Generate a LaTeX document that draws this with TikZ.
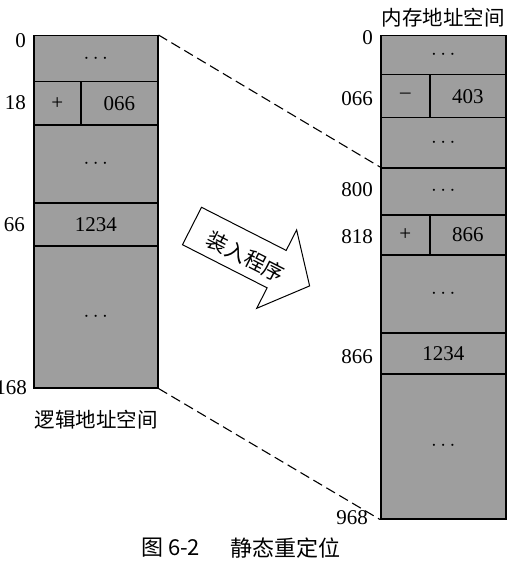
\documentclass[tikz,border=0pt]{standalone}
\usepackage{fontspec}
\setmainfont{Liberation Serif}
\newfontfamily\cjk{Noto Sans CJK SC}
\begin{document}
\begin{tikzpicture}[x=1pt,y=-1pt,
  cell/.style={draw=black, line width=1.5pt, fill=black!38, inner sep=0pt, anchor=north west, font=\fontsize{21}{21}\selectfont},
  lab/.style={font=\fontsize{21}{21}\selectfont, anchor=east, inner sep=0pt},
  cjklab/.style={font=\cjk\fontsize{20.5}{20.5}\selectfont, inner sep=0pt},
  caplab/.style={font=\cjk\fontsize{22}{22}\selectfont, inner sep=0pt, anchor=west},
  link/.style={dash pattern=on 10pt off 5pt, line width=1.1pt},
  bigarrow/.style={draw=black, line width=1pt, fill=white}]
\useasboundingbox (0,0) rectangle (517,575);
% left block
\node[cell, minimum width=124pt, minimum height=46pt] (L1) at (33,35) {$\cdots$};
\node[cell, minimum width=47pt, minimum height=43pt] (L2a) at (33,81) {+};
\node[cell, minimum width=77pt, minimum height=43pt] (L2b) at (80,81) {066};
\node[cell, minimum width=124pt, minimum height=78pt] (L3) at (33,124) {$\cdots$};
\node[cell, minimum width=124pt, minimum height=43pt] (L4) at (33,202) {1234};
\node[cell, minimum width=124pt, minimum height=142pt] (L5) at (33,245) {$\cdots$};
% right block
\node[cell, minimum width=125pt, minimum height=39pt] (R1) at (380,35) {$\cdots$};
\node[cell, minimum width=49pt, minimum height=43pt] (R2a) at (380,74) {\textendash};
\node[cell, minimum width=76pt, minimum height=43pt] (R2b) at (429,74) {403};
\node[cell, minimum width=125pt, minimum height=50pt] (R3) at (380,117) {$\cdots$};
\node[cell, minimum width=125pt, minimum height=47pt] (R4) at (380,167) {$\cdots$};
\node[cell, minimum width=49pt, minimum height=40pt] (R5a) at (380,214) {+};
\node[cell, minimum width=76pt, minimum height=40pt] (R5b) at (429,214) {866};
\node[cell, minimum width=125pt, minimum height=78pt] (R6) at (380,254) {$\cdots$};
\node[cell, minimum width=125pt, minimum height=41pt] (R7) at (380,332) {1234};
\node[cell, minimum width=125pt, minimum height=145pt] (R8) at (380,373) {$\cdots$};
% address labels
\node[lab] (l0) at (26,41) {0};
\node[lab] (l18) at (26,103) {18};
\node[lab] (l66) at (25,225) {66};
\node[lab] (l168) at (27,388) {168};
\node[lab] (r0) at (373,38) {0};
\node[lab] (r066) at (373,99) {066};
\node[lab] (r800) at (373,190) {800};
\node[lab] (r818) at (373,237) {818};
\node[lab] (r866) at (373,357) {866};
\node[lab] (r968) at (368,518) {968};
% titles
\node[cjklab] (tR) at (443,18) {内存地址空间};
\node[cjklab] (tL) at (96,420) {逻辑地址空间};
% dashed links
\draw[link] (L1.north east) -- (R4.north west);
\draw[link] (L5.south east) -- (R8.south west);
% big arrow
\begin{scope}[shift={(192,226)}, rotate=-27]
\draw[bigarrow] (0,-21) -- (95,-21) -- (95,-44) -- (132,0) -- (95,44) -- (95,21) -- (0,21) -- cycle;
\node[rotate=-27, font=\cjk\fontsize{21}{21}\selectfont, inner sep=0pt] (load) at (62,3) {装入程序};
\end{scope}
% caption
\node[caplab] (c1) at (141,548) {图 6-2};
\node[caplab] (c2) at (230,548) {静态重定位};
\end{tikzpicture}
\end{document}
